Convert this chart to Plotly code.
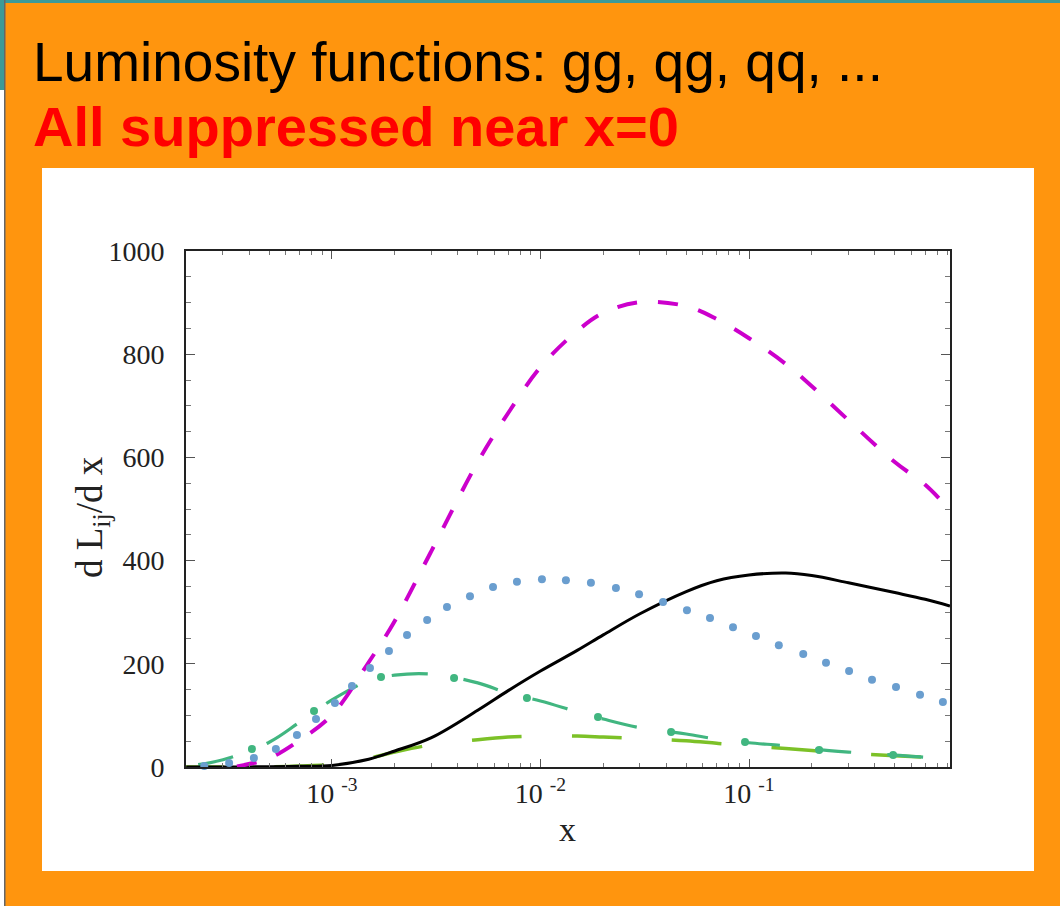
import plotly.graph_objects as go

# ---------------- data ----------------
x_grid = [2e-4, 3e-4, 5e-4, 7e-4, 1e-3, 1.5e-3, 2e-3, 3e-3, 5e-3, 7e-3, 1e-2,
          1.5e-2, 2e-2, 3e-2, 5e-2, 7e-2, 0.1, 0.15, 0.2, 0.3, 0.5, 0.7, 0.92]

# solid black curve
black_y = [0, 0, 0.5, 1.5, 3, 15, 31, 57, 110, 148, 186,
           226, 256, 297, 340, 361, 372, 376, 371, 357, 338, 325, 312]

# magenta dashed curve
mag_x = [3.5e-4, 5e-4, 7e-4, 1e-3, 1.5e-3, 2e-3, 3e-3, 5e-3, 7e-3, 1e-2,
         1.5e-2, 2e-2, 3e-2, 5e-2, 7e-2, 0.1, 0.15, 0.2, 0.3, 0.5, 0.7, 0.92]
mag_y = [1, 17, 52, 101, 203, 283, 419, 591, 686, 775,
         845, 880, 901, 893, 868, 831, 781, 738, 672, 591, 547, 498]

# blue dotted curve (dots)
blue_x = [2.44e-4, 3.21e-4, 4.22e-4, 5.38e-4, 6.79e-4, 8.38e-4, 1.033e-3, 1.247e-3,
          1.521e-3, 1.876e-3, 2.29e-3, 2.86e-3, 3.56e-3, 4.59e-3, 5.92e-3, 7.71e-3,
          1.016e-2, 1.324e-2, 1.745e-2, 2.30e-2, 2.97e-2, 3.87e-2, 5.04e-2, 6.50e-2,
          8.38e-2, 0.108, 0.139, 0.182, 0.234, 0.302, 0.389, 0.507, 0.661, 0.851]
blue_y = [1.9, 7.8, 17.4, 34.9, 62, 93, 124, 157, 192, 225, 256, 285, 310, 331, 349, 359,
          364, 362, 357, 347, 335, 320, 304, 289, 271, 254, 236, 219, 202, 186, 169, 155,
          140, 126]

# green long-dash-dot curve
green_x = [1.87e-4, 3e-4, 5e-4, 7e-4, 1e-3, 1.5e-3, 2e-3, 3e-3, 5e-3, 7e-3, 1e-2,
           1.5e-2, 2e-2, 3e-2, 5e-2, 7e-2, 0.1, 0.15, 0.2, 0.3, 0.5, 0.7, 0.92]
green_y = [0, 14, 48, 87, 130, 167, 178, 180, 163, 143, 128,
           107, 93, 76, 64, 54, 47, 41, 35, 29, 23, 19, 17]
green_dot_x = [1.87e-4, 4.13e-4, 8.20e-4, 1.718e-3, 3.85e-3, 8.61e-3,
               1.887e-2, 4.23e-2, 9.57e-2, 0.217, 0.491]
green_dot_y = [-4, 34.9, 108.5, 174.4, 172.5, 133.7, 96.9, 67.8, 48.4, 32.9, 23.3]

# lime long-dashed curve
lime_x = [1.75e-4, 3e-4, 5e-4, 7e-4, 1e-3, 1.5e-3, 2e-3, 3e-3, 5e-3, 7e-3, 1e-2,
          1.5e-2, 2e-2, 3e-2, 5e-2, 7e-2, 0.1, 0.15, 0.2, 0.3, 0.5, 0.7, 0.92]
lime_y = [0, 0, 0.5, 2, 5, 17, 29, 43, 53, 58, 60,
          60, 58, 55, 51, 46, 41, 36, 32, 27, 22, 19, 17]

x_major = [1e-3, 1e-2, 1e-1]
x_major_text = ["10 <sup>-3</sup>", "10 <sup>-2</sup>", "10 <sup>-1</sup>"]
y_major = [0, 200, 400, 600, 800, 1000]

title1 = "Luminosity functions: gg, qg, qq, ..."
title2 = "All suppressed near x=0"
y_title = "d L<sub>ij</sub>/d x"
x_title = "x"

# ---------------- layout helpers ----------------
W_PX, H_PX = 1060, 906
L, T, PW, PH = 186, 251, 764, 516


def fx(px):
    return (px - L) / PW


def fy(py):
    return (T + PH - py) / PH


minor_x = [m * 10.0 ** e for e in range(-4, 0) for m in range(2, 10)]
minor_x = [v for v in minor_x if 2e-4 < v < 0.92]

fig = go.Figure()

fig.add_trace(go.Scatter(x=lime_x, y=lime_y, mode="lines", line_shape="spline",
                         line=dict(color="#7CC127", width=3.5, dash="50px,50px"),
                         showlegend=False, hoverinfo="skip"))
fig.add_trace(go.Scatter(x=green_x, y=green_y, mode="lines", line_shape="spline",
                         line=dict(color="#41B680", width=3.2, dash="0px,18px,36px,18px"),
                         showlegend=False, hoverinfo="skip"))
fig.add_trace(go.Scatter(x=green_dot_x, y=green_dot_y, mode="markers",
                         marker=dict(color="#41B680", size=8),
                         cliponaxis=False, showlegend=False, hoverinfo="skip"))
fig.add_trace(go.Scatter(x=x_grid, y=black_y, mode="lines", line_shape="spline",
                         line=dict(color="black", width=3),
                         showlegend=False, hoverinfo="skip"))
fig.add_trace(go.Scatter(x=mag_x, y=mag_y, mode="lines", line_shape="spline",
                         line=dict(color="#CC00CC", width=4, dash="20px,21px"),
                         showlegend=False, hoverinfo="skip"))
fig.add_trace(go.Scatter(x=blue_x, y=blue_y, mode="markers",
                         marker=dict(color="#6A9ECF", size=8),
                         cliponaxis=False, showlegend=False, hoverinfo="skip"))

tick_font = dict(family="Liberation Serif, Times New Roman, serif", size=28, color="#222")

fig.update_xaxes(type="log", range=[-3.7002, -0.036], showgrid=False, zeroline=False,
                 showline=True, linecolor="#222", linewidth=2, mirror="allticks",
                 ticks="inside", ticklen=8, tickwidth=1, tickcolor="#555",
                 tickvals=x_major, ticktext=x_major_text, tickfont=tick_font,
                 minor=dict(tickvals=minor_x, ticks="inside", ticklen=4,
                            tickcolor="#777", tickwidth=1, showgrid=False))
fig.update_yaxes(range=[0, 1000], showgrid=False, zeroline=False,
                 showline=True, linecolor="#222", linewidth=2, mirror="allticks",
                 ticks="inside", ticklen=9, tickwidth=1, tickcolor="#555",
                 tickvals=y_major, tickfont=tick_font, ticklabelstandoff=14,
                 minor=dict(dtick=50, ticks="inside", ticklen=5,
                            tickcolor="#777", tickwidth=1, showgrid=False))

shapes = [
    dict(type="rect", xref="paper", yref="paper", x0=fx(42), x1=fx(1034),
         y0=fy(871), y1=fy(168), fillcolor="white", line=dict(width=0), layer="below"),
    dict(type="rect", xref="paper", yref="paper", x0=fx(0), x1=fx(W_PX),
         y0=fy(3), y1=fy(0), fillcolor="#3C9A98", line=dict(width=0), layer="below"),
    dict(type="rect", xref="paper", yref="paper", x0=fx(0), x1=fx(4),
         y0=fy(90), y1=fy(0), fillcolor="#3C9A98", line=dict(width=0), layer="below"),
    dict(type="rect", xref="paper", yref="paper", x0=fx(0), x1=fx(4),
         y0=fy(H_PX), y1=fy(90), fillcolor="white", line=dict(width=0), layer="below"),
    dict(type="rect", xref="paper", yref="paper", x0=fx(4), x1=fx(5.5),
         y0=fy(H_PX), y1=fy(0), fillcolor="#666666", line=dict(width=0), layer="below"),
]

annotations = [
    dict(text=title1, xref="paper", yref="paper", x=fx(31), y=fy(62),
         xanchor="left", yanchor="middle", showarrow=False,
         font=dict(family="Liberation Sans, Arial, sans-serif", size=55, color="black")),
    dict(text="<b>" + title2 + "</b>", xref="paper", yref="paper", x=fx(31), y=fy(126),
         xanchor="left", yanchor="middle", showarrow=False,
         font=dict(family="Liberation Sans, Arial, sans-serif", size=56, color="#FF0000")),
    dict(text=y_title, xref="paper", yref="paper", x=fx(92), y=fy(517),
         xanchor="center", yanchor="middle", textangle=-90, showarrow=False,
         font=dict(family="Liberation Serif, Times New Roman, serif", size=37, color="#222")),
    dict(text=x_title, xref="paper", yref="paper", x=fx(567), y=fy(829),
         xanchor="center", yanchor="middle", showarrow=False,
         font=dict(family="Liberation Serif, Times New Roman, serif", size=34, color="#222")),
]

fig.update_layout(
    width=W_PX, height=H_PX,
    margin=dict(l=L, r=W_PX - L - PW, t=T, b=H_PX - T - PH, autoexpand=False),
    paper_bgcolor="#FF950E", plot_bgcolor="white",
    shapes=shapes, annotations=annotations, showlegend=False,
)

fig.write_html("out.html", config={"displayModeBar": False},
               post_script="document.body.style.margin='0px';")
